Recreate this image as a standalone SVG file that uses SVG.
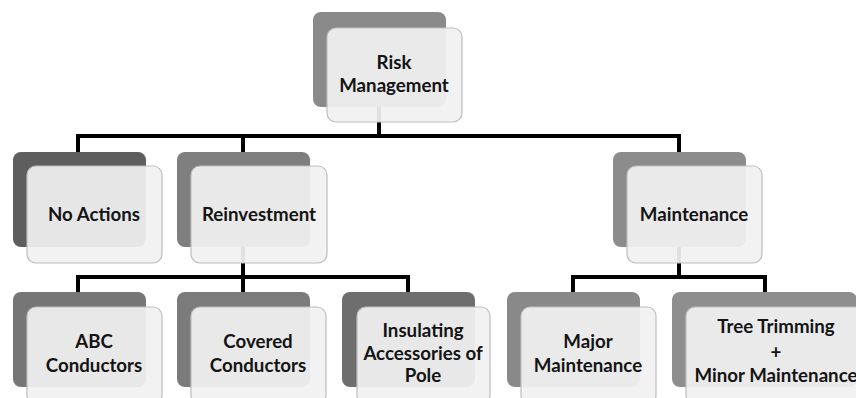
<svg xmlns="http://www.w3.org/2000/svg" width="856" height="398" viewBox="0 0 856 398">
  <style>
    .back { stroke: none; }
    .front { fill: #f1f1f1; fill-opacity: 0.93; stroke: #bdbdbd; stroke-width: 1.2; }
    .link { fill: none; stroke: #000; stroke-width: 4; stroke-linejoin: miter; stroke-linecap: butt; }
    .label { font-family: Lato, "Liberation Sans", Arial, sans-serif; font-weight: 700; font-size: 18.7px; fill: #141414; text-anchor: middle; }
  </style>

  <!-- connectors (drawn beneath the nodes) -->
  <g id="connectors">
    <path class="link" d="M379 107 V136 M78 154 V136 H679 V154 M243 136 V154"/>
    <path class="link" d="M243 247 V277 M78 294 V277 H408 V294 M243 277 V294"/>
    <path class="link" d="M679 247 V277 M573 294 V277 H765 V294"/>
  </g>

  <g id="risk-management">
    <rect class="back" x="313" y="12" width="133" height="95" rx="8" fill="#8a8a8a"/>
    <rect class="front" x="327" y="28" width="135" height="94" rx="9"/>
    <text class="label" x="394" y="69">Risk</text>
    <text class="label" x="394" y="92">Management</text>
  </g>

  <g id="no-actions">
    <rect class="back" x="13" y="152" width="133" height="95" rx="8" fill="#5e5e5e"/>
    <rect class="front" x="27" y="166" width="135" height="97" rx="9"/>
    <text class="label" x="94" y="221">No Actions</text>
  </g>

  <g id="reinvestment">
    <rect class="back" x="177" y="152" width="133" height="95" rx="8" fill="#7f7f7f"/>
    <rect class="front" x="191" y="166" width="136" height="97" rx="9"/>
    <text class="label" x="259" y="221">Reinvestment</text>
  </g>

  <g id="maintenance">
    <rect class="back" x="613" y="152" width="133" height="95" rx="8" fill="#8c8c8c"/>
    <rect class="front" x="627" y="166" width="135" height="97" rx="9"/>
    <text class="label" x="694" y="221">Maintenance</text>
  </g>

  <g id="abc-conductors">
    <rect class="back" x="13" y="292" width="133" height="95" rx="8" fill="#767676"/>
    <rect class="front" x="27" y="307" width="135" height="97" rx="9"/>
    <text class="label" x="94" y="348">ABC</text>
    <text class="label" x="94" y="372">Conductors</text>
  </g>

  <g id="covered-conductors">
    <rect class="back" x="177" y="292" width="133" height="95" rx="8" fill="#7b7b7b"/>
    <rect class="front" x="191" y="307" width="135" height="97" rx="9"/>
    <text class="label" x="258" y="348">Covered</text>
    <text class="label" x="258" y="372">Conductors</text>
  </g>

  <g id="insulating-accessories">
    <rect class="back" x="342" y="292" width="133" height="95" rx="8" fill="#6e6e6e"/>
    <rect class="front" x="357" y="307" width="133" height="97" rx="9"/>
    <text class="label" x="423" y="337">Insulating</text>
    <text class="label" x="423" y="360">Accessories of</text>
    <text class="label" x="423" y="382">Pole</text>
  </g>

  <g id="major-maintenance">
    <rect class="back" x="507" y="292" width="133" height="95" rx="8" fill="#898989"/>
    <rect class="front" x="521" y="307" width="135" height="97" rx="9"/>
    <text class="label" x="588" y="348">Major</text>
    <text class="label" x="588" y="372">Maintenance</text>
  </g>

  <g id="tree-trimming">
    <rect class="back" x="672" y="292" width="185" height="95" rx="8" fill="#8e8e8e"/>
    <rect class="front" x="686" y="307" width="185" height="97" rx="9"/>
    <text class="label" x="776" y="333">Tree Trimming</text>
    <text class="label" x="776" y="359">+</text>
    <text class="label" x="776" y="382">Minor Maintenance</text>
  </g>
</svg>
